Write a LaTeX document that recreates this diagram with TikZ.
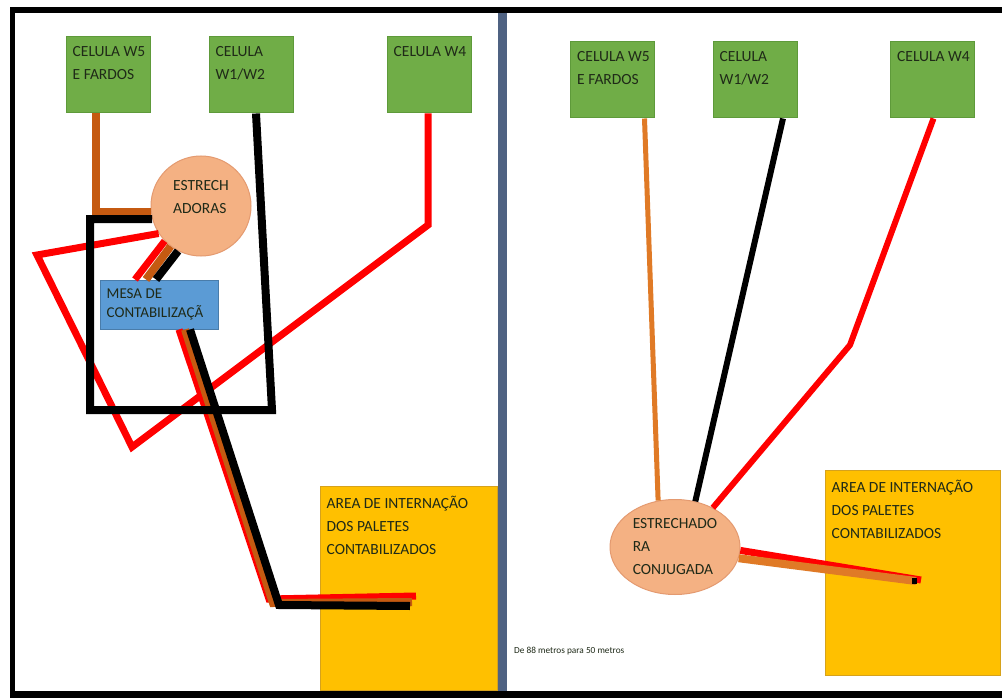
\documentclass[tikz,border=0pt]{standalone}
\usepackage{fontspec}
\setmainfont{Carlito}
\usetikzlibrary{shapes.geometric}
\definecolor{cellgreen}{HTML}{70AD47}
\definecolor{celledge}{HTML}{5E9A3A}
\definecolor{mesablue}{HTML}{5B9BD5}
\definecolor{estrfill}{HTML}{F4B183}
\definecolor{estredge}{HTML}{E49A70}
\definecolor{areafill}{HTML}{FFC000}
\definecolor{areaedge}{HTML}{D6A21C}
\definecolor{routebrown}{HTML}{C55A11}
\definecolor{routeorange}{HTML}{E07A26}
\definecolor{slate}{HTML}{4F6282}
\definecolor{ink}{HTML}{1F2A18}

\begin{document}
\begin{tikzpicture}[x=1pt,y=-1pt,
	cell/.style={rectangle,fill=cellgreen,draw=celledge,line width=1,minimum width=84,minimum height=76,inner sep=0},
	mesa/.style={rectangle,fill=mesablue,draw=mesablue!80!black,line width=1,minimum width=118,minimum height=49,inner sep=0},
	area/.style={rectangle,fill=areafill,draw=areaedge,line width=1,inner sep=0},
	estr/.style={circle,fill=estrfill,draw=estredge,line width=1,minimum size=100,inner sep=0},
	estrb/.style={ellipse,fill=estrfill,draw=estredge,line width=1,minimum width=130,minimum height=95,inner sep=0,
		align=left,text=ink,font=\fontsize{15.5}{23}\selectfont},
	boxtext/.style={anchor=north west,align=left,inner xsep=7,inner ysep=10,text=ink,font=\fontsize{15.5}{23}\selectfont},
	mesatext/.style={boxtext,inner ysep=9,font=\fontsize{15}{19}\selectfont},
	note/.style={font=\fontsize{9.3}{10}\selectfont,inner sep=0,text=ink},
	route/.style={line width=8,line join=miter},
	thin route/.style={line width=6,line join=miter}
	]
	\useasboundingbox (0,0) rectangle (1002,698);
	\fill[white] (0,0) rectangle (1002,698);
	\fill[slate] (498,13) rectangle (507,691);
	\fill (10,7) rectangle (1002,13);
	\fill (10,7) rectangle (15,698);
	\fill (10,691) rectangle (1002,698);

	\node[cell,label={[boxtext]north west:{CELULA W5\\E FARDOS}}] (w5a) at (108,75) {};
	\node[cell,label={[boxtext]north west:{CELULA\\W1/W2}}] (w12a) at (251,75) {};
	\node[cell,label={[boxtext]north west:{CELULA W4}}] (w4a) at (429,75) {};
	\node[estr,label={[boxtext,anchor=center,inner sep=0,yshift=9]center:{ESTRECH\\ADORAS}}] (estra) at (201,206) {};
	\node[mesa,label={[mesatext]north west:{MESA DE\\CONTABILIZAÇÃ}}] (mesa) at (159,304.5) {};
	\node[area,minimum width=177,minimum height=204,
		label={[boxtext]north west:{AREA DE INTERNAÇÃO\\DOS PALETES\\CONTABILIZADOS}}] (areaa) at (408.5,588) {};

	\node[cell,label={[boxtext]north west:{CELULA W5\\E FARDOS}}] (w5b) at (612.5,80) {};
	\node[cell,label={[boxtext]north west:{CELULA\\W1/W2}}] (w12b) at (755,80) {};
	\node[cell,label={[boxtext]north west:{CELULA W4}}] (w4b) at (932.5,80) {};
	\node[estrb] (estrc) at (675,547) {ESTRECHADO\\RA\\CONJUGADA};
	\node[area,minimum width=175,minimum height=205,
		label={[boxtext]north west:{AREA DE INTERNAÇÃO\\DOS PALETES\\CONTABILIZADOS}}] (areab) at (912.5,572.5) {};
	\node[note,anchor=west] (nota) at (514,651) {De 88 metros para 50 metros};

	\coordinate (bendw4) at (428,225);
	\coordinate (apex) at (132,447);
	\coordinate (tipl) at (37,255);
	\coordinate (rectse) at (272,410);
	\coordinate (rectsw) at (90,410);
	\draw[route,red,line width=7] ([xshift=-1]w4a.south) -- (bendw4) -- (apex) -- (tipl) -- (estra.213);
	\draw[route,red,line width=7] (estra.224) -- ([xshift=-24]mesa.north);
	\draw[route,red,line width=7] ([xshift=20]mesa.south) -- (269,599) -- (416,596);
	\draw[route,routebrown] ([xshift=-12]w5a.south) |- (estra.187);
	\draw[route,routebrown] (estra.233) -- ([xshift=-13]mesa.north);
	\draw[route,routebrown] ([xshift=26]mesa.south) -- (273,603) -- (412,602);
	\draw[route] ([xshift=5]w12a.south) -- (rectse) -- (rectsw) |- (estra.195);
	\draw[route] (estra.243) -- ([xshift=-3]mesa.north);
	\draw[route] ([xshift=31]mesa.south) -- (279,605) -- (410,606);

	\coordinate (kneeb) at (850,345);
	\coordinate (dropb) at (916,581);
	\draw[thin route,routeorange,line width=5] ([xshift=32]w5b.south) -- (estrc.110);
	\draw[thin route] ([xshift=28]w12b.south) -- (estrc.66);
	\draw[thin route,red] ([xshift=1]w4b.south) -- (kneeb) -- (estrc.46);
	\draw[red,line width=7] (estrc.-3) -- ([shift={(5,-1)}]dropb);
	\draw[routeorange,line width=8] (estrc.-10) -- (dropb);
	\draw[line width=6] ([xshift=-4]dropb) -- ([xshift=1]dropb);
\end{tikzpicture}
\end{document}
